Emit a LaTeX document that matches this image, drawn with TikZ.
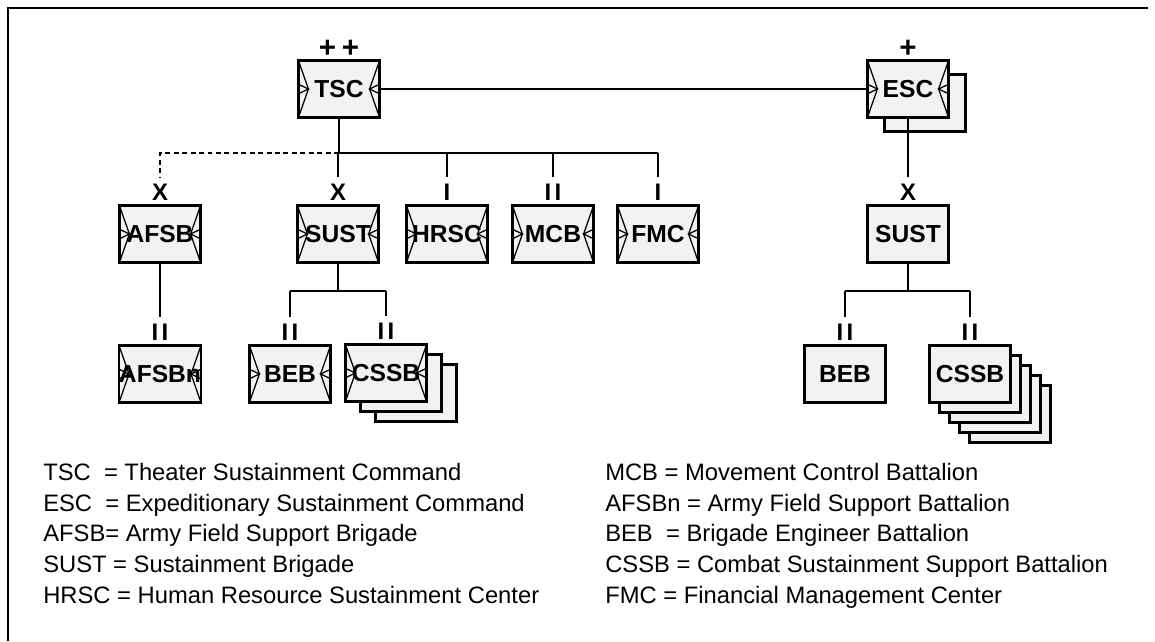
\documentclass[tikz,border=0pt]{standalone}
\usepackage{fontspec}
\setmainfont{Liberation Sans}
\usetikzlibrary{positioning}
\definecolor{unitfill}{HTML}{F1F2F2}

\begin{document}
\begin{tikzpicture}[
  x=0.025cm, y=-0.025cm,
  unitbox/.style={draw, line width=2.1pt, fill=unitfill, minimum width=2.03cm,
                  minimum height=1.43cm, inner sep=0pt,
                  font=\fontsize{17.5pt}{17.5pt}\selectfont\bfseries},
  sustbox/.style={unitbox, path picture={
      \draw[line width=0.9pt] (path picture bounding box.north west)
        -- ([xshift=0.25cm]path picture bounding box.west)
        -- (path picture bounding box.south west);
      \draw[line width=0.9pt] ([yshift=0.12cm]path picture bounding box.west)
        -- ([xshift=0.25cm]path picture bounding box.west)
        -- ([yshift=-0.12cm]path picture bounding box.west);
      \draw[line width=0.9pt] (path picture bounding box.north east)
        -- ([xshift=-0.25cm]path picture bounding box.east)
        -- (path picture bounding box.south east);
      \draw[line width=0.9pt] ([yshift=0.12cm]path picture bounding box.east)
        -- ([xshift=-0.25cm]path picture bounding box.east)
        -- ([yshift=-0.12cm]path picture bounding box.east);
    }},
  ech/.style={inner sep=0pt, font=\fontsize{17pt}{17pt}\selectfont\bfseries},
  link/.style={line width=1.1pt},
  legend/.style={inner sep=0pt, align=left, anchor=north west,
                 font=\fontsize{16.9pt}{21.8pt}\selectfont}
]
  \useasboundingbox (0,0) rectangle (1155,641);
  \draw[line width=1pt] (8,641) -- (8,8) -- (1148,8);

  % top level
  \node[sustbox] (tsc) at (339,89) {TSC};
  \node[unitbox] (escS) at (925,103) {};
  \node[sustbox] (esc) at (908,89) {ESC};
  \node[ech, font=\fontsize{21pt}{21pt}\selectfont\bfseries, above=0.5pt of tsc] (etsc) {+\kern4.2pt+};
  \node[ech, font=\fontsize{21pt}{21pt}\selectfont\bfseries, above=0.5pt of esc] (eesc) {+};

  % second level
  \node[sustbox] (afsb) at (160,234) {AFSB};
  \node[sustbox] (sust) at (338,234) {SUST};
  \node[sustbox] (hrsc) at (447,234) {HRSC};
  \node[sustbox] (mcb) at (553,234) {MCB};
  \node[sustbox] (fmc) at (658,234) {FMC};
  \node[unitbox] (escsust) at (908,234) {SUST};
  \foreach \u in {afsb,sust,escsust}
    \node[ech, font=\fontsize{17pt}{17pt}\selectfont\bfseries, above=2pt of \u] (e\u) {X};
  \node[ech, above=2pt of hrsc] (ehrsc) {I};
  \node[ech, above=2pt of mcb] (emcb) {I\kern2.4pt I};
  \node[ech, above=2pt of fmc] (efmc) {I};

  % third level
  \node[sustbox] (afsbn) at (160,374) {AFSBn};
  \node[sustbox] (beb) at (290,374) {BEB};
  \foreach \k in {2,1}
    \node[unitbox] (cssbS\k) at (386+15*\k,373+10*\k) {};
  \node[sustbox] (cssb) at (386,373) {CSSB};
  \node[unitbox] (escbeb) at (845,374) {BEB};
  \foreach \k in {4,3,2,1}
    \node[unitbox] (esccssbS\k) at (970+10*\k,374+10*\k) {};
  \node[unitbox] (esccssb) at (970,374) {CSSB};
  \foreach \u in {afsbn,beb,cssb,escbeb,esccssb}
    \node[ech, above=2pt of \u] (e\u) {I\kern2.4pt I};

  % links
  \coordinate (tscbar) at (339,153);
  \draw[link] (tsc) -- (esc);
  \draw[link] (tsc) -- (tscbar);
  \draw[link] (tscbar) -- (tscbar -| fmc);
  \draw[link, dash pattern=on 3.5pt off 2.5pt] (tscbar) -- (tscbar -| afsb)
    -- ([yshift=5pt]eafsb.north);
  \foreach \u in {sust,hrsc,mcb,fmc}
    \draw[link] (tscbar -| \u) -- ([yshift=5pt]e\u.north);
  \draw[link] (esc.south) -- ([yshift=5pt]eescsust.north);

  \draw[link] (afsb) -- ([yshift=5pt]eafsbn.north);
  \coordinate (sustbar) at (338,291);
  \draw[link] (sust) -- (sustbar);
  \draw[link] (sustbar -| beb) -- (sustbar -| cssb);
  \foreach \u in {beb,cssb}
    \draw[link] (sustbar -| \u) -- ([yshift=5pt]e\u.north);
  \coordinate (escsustbar) at (908,291);
  \draw[link] (escsust) -- (escsustbar);
  \draw[link] (escsustbar -| escbeb) -- (escsustbar -| esccssb);
  \foreach \u in {escbeb,esccssb}
    \draw[link] (escsustbar -| \u) -- ([yshift=5pt]e\u.north);

  % legend
  \node[legend] (legL) at (43,463) {TSC\ \ = Theater Sustainment Command\\
    ESC\ \ = Expeditionary Sustainment Command\\
    AFSB= Army Field Support Brigade\\
    SUST = Sustainment Brigade\\
    HRSC = Human Resource Sustainment Center};
  \node[legend] (legR) at (605,463) {MCB = Movement Control Battalion\\
    AFSBn = Army Field Support Battalion\\
    BEB\ \ = Brigade Engineer Battalion\\
    CSSB = Combat Sustainment Support Battalion\\
    FMC = Financial Management Center};
\end{tikzpicture}
\end{document}
